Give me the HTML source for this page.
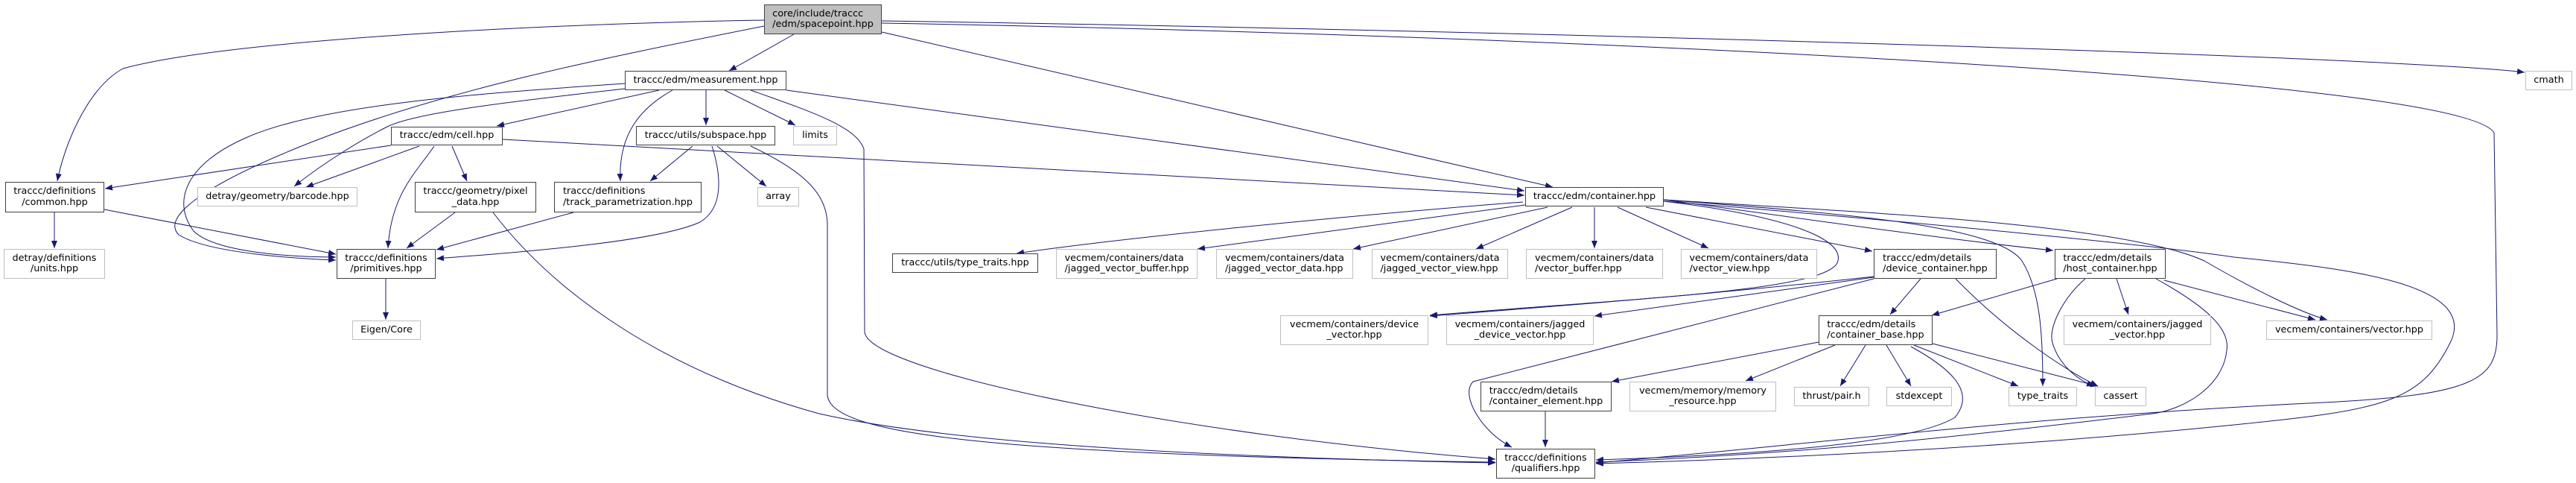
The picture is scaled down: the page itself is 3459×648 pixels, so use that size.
<!DOCTYPE html>
<html><head><meta charset="utf-8">
<style>
html,body{margin:0;padding:0;background:#fff;}
#wrap{position:relative;width:3459px;height:648px;overflow:hidden;background:#fff;}
svg{position:absolute;left:0;top:0;}
.n{position:absolute;box-sizing:border-box;border:1.3px solid #404040;background:#fff;display:flex;align-items:center;justify-content:center;font-family:"DejaVu Sans","Liberation Sans",sans-serif;font-size:12.8px;line-height:14.5px;color:#000;white-space:nowrap;}
.g{border-color:#bfbfbf;}
.r{background:#bfbfbf;}
.n span{display:inline-block;}
.c span{text-align:center;}
.l span{text-align:left;}
</style></head><body>
<div id="wrap">
<svg width="3459" height="648" viewBox="0 0 3459 648">
<defs><marker id="a" viewBox="0 0 10 8" refX="10" refY="4" markerWidth="10" markerHeight="8" markerUnits="userSpaceOnUse" orient="auto"><path d="M0,0 L10,4 L0,8 z" fill="#191970"/></marker></defs>
<g fill="none" stroke="#191970" stroke-width="1" marker-end="url(#a)">
<path d="M1026,27 C700,33 300,55 165,92 C115,120 85,200 77,243"/>
<path d="M1026,35 C800,80 600,120 420,190 C280,245 215,290 240,315 C280,340 400,347 451,349"/>
<path d="M1066,46 L979,95"/>
<path d="M1184,43 L2085,251"/>
<path d="M1184,28 C2000,40 3200,75 3390,97"/>
<path d="M1184,31 C2000,45 3300,100 3349,178 L3353,450 C3353,510 3320,530 3120,540 C2700,560 2400,600 2143,621"/>
<path d="M885,121 L667,169"/>
<path d="M948,121 L948,168"/>
<path d="M973,121 L1068,168"/>
<path d="M839,112 C650,125 430,140 330,185 C250,220 230,270 260,310 C290,340 400,345 451,345"/>
<path d="M839,119 C700,135 560,150 520,170 C470,195 420,230 395,250"/>
<path d="M903,121 C860,145 830,180 833,243"/>
<path d="M1056,121 L2047,256"/>
<path d="M1008,121 C1090,150 1150,170 1160,200 L1161,446 C1170,500 1600,585 2008,616"/>
<path d="M1008,196 C1080,230 1110,260 1111,300 L1111,530 C1115,580 1300,610 2008,620"/>
<path d="M675,187 L2047,262"/>
<path d="M525,195 L141,253"/>
<path d="M563,196 L411,251"/>
<path d="M583,196 C560,230 525,260 521,333"/>
<path d="M607,196 L627,243"/>
<path d="M930,196 L873,243"/>
<path d="M963,196 L1029,250"/>
<path d="M956,196 C970,240 970,280 940,298 C880,325 700,338 586,347"/>
<path d="M73,285 L73,333"/>
<path d="M140,281 L451,341"/>
<path d="M611,285 L546,333"/>
<path d="M662,285 C750,400 900,500 1100,555 C1300,600 1700,615 2008,621"/>
<path d="M770,285 L586,335"/>
<path d="M518,374 L518,429"/>
<path d="M2045,271 C1800,290 1500,320 1365,340"/>
<path d="M2048,275 L1608,334"/>
<path d="M2078,278 L1817,334"/>
<path d="M2111,278 L1982,334"/>
<path d="M2141,278 L2141,333"/>
<path d="M2172,278 L2294,333"/>
<path d="M2210,278 L2514,337"/>
<path d="M2234,268 C2400,290 2600,320 2757,336"/>
<path d="M2234,270 C2400,290 2475,320 2468,350 C2460,390 2200,400 1920,423"/>
<path d="M2234,268 C2450,285 2680,300 2715,350 C2740,390 2743,450 2743,518"/>
<path d="M2234,268 C2500,285 2850,300 2960,350 C3020,385 3090,420 3125,429"/>
<path d="M2234,270 C2600,300 2900,330 3000,345 C3150,360 3330,380 3290,460 C3250,540 3200,550 3000,570 C2700,600 2400,615 2143,622"/>
<path d="M2516,371 C2300,395 2100,410 1920,424"/>
<path d="M2516,372 L2141,424"/>
<path d="M2516,374 C2300,430 2100,480 1978,512 C1960,530 1990,580 2030,600"/>
<path d="M2579,374 L2538,422"/>
<path d="M2626,374 C2700,450 2780,500 2817,518"/>
<path d="M2762,374 L2594,423"/>
<path d="M2842,374 L2858,422"/>
<path d="M2906,376 L3109,429"/>
<path d="M2800,374 C2770,400 2750,440 2756,460 C2765,490 2790,510 2812,518"/>
<path d="M2895,374 C2960,410 2995,440 2990,470 C2985,520 2930,550 2890,555 C2600,590 2400,610 2143,620"/>
<path d="M2442,459 L2164,512"/>
<path d="M2464,463 L2344,511"/>
<path d="M2505,463 L2471,518"/>
<path d="M2533,463 L2566,518"/>
<path d="M2570,463 L2710,518"/>
<path d="M2595,461 L2817,518"/>
<path d="M2566,465 C2630,500 2650,530 2625,560 C2560,600 2300,612 2143,617"/>
<path d="M2075,552 L2075,600"/>
</g>
</svg>
<div class="n r l" style="left:1026px;top:6px;width:158px;height:40px"><span>core/include/traccc<br>/edm/spacepoint.hpp</span></div>
<div class="n c" style="left:839px;top:95px;width:217px;height:26px"><span>traccc/edm/measurement.hpp</span></div>
<div class="n c" style="left:525px;top:170px;width:150px;height:25px"><span>traccc/edm/cell.hpp</span></div>
<div class="n c" style="left:854px;top:169px;width:187px;height:26px"><span>traccc/utils/subspace.hpp</span></div>
<div class="n g c" style="left:1065px;top:169px;width:59px;height:26px"><span>limits</span></div>
<div class="n c" style="left:7px;top:244px;width:133px;height:41px"><span>traccc/definitions<br>/common.hpp</span></div>
<div class="n g c" style="left:265px;top:251px;width:215px;height:26px"><span>detray/geometry/barcode.hpp</span></div>
<div class="n c" style="left:557px;top:244px;width:163px;height:41px"><span>traccc/geometry/pixel<br>_data.hpp</span></div>
<div class="n l" style="left:744px;top:244px;width:198px;height:41px"><span>traccc/definitions<br>/track_parametrization.hpp</span></div>
<div class="n g c" style="left:1017px;top:251px;width:56px;height:26px"><span>array</span></div>
<div class="n g c" style="left:5px;top:334px;width:136px;height:40px"><span>detray/definitions<br>/units.hpp</span></div>
<div class="n c" style="left:452px;top:334px;width:133px;height:40px"><span>traccc/definitions<br>/primitives.hpp</span></div>
<div class="n g c" style="left:473px;top:430px;width:92px;height:26px"><span>Eigen/Core</span></div>
<div class="n c" style="left:2048px;top:251px;width:186px;height:26px"><span>traccc/edm/container.hpp</span></div>
<div class="n c" style="left:1198px;top:340px;width:196px;height:26px"><span>traccc/utils/type_traits.hpp</span></div>
<div class="n g l" style="left:1418px;top:334px;width:190px;height:40px"><span>vecmem/containers/data<br>/jagged_vector_buffer.hpp</span></div>
<div class="n g l" style="left:1633px;top:334px;width:184px;height:40px"><span>vecmem/containers/data<br>/jagged_vector_data.hpp</span></div>
<div class="n g l" style="left:1842px;top:334px;width:183px;height:40px"><span>vecmem/containers/data<br>/jagged_vector_view.hpp</span></div>
<div class="n g l" style="left:2049px;top:334px;width:184px;height:40px"><span>vecmem/containers/data<br>/vector_buffer.hpp</span></div>
<div class="n g l" style="left:2257px;top:334px;width:183px;height:40px"><span>vecmem/containers/data<br>/vector_view.hpp</span></div>
<div class="n l" style="left:2516px;top:334px;width:165px;height:40px"><span>traccc/edm/details<br>/device_container.hpp</span></div>
<div class="n l" style="left:2759px;top:334px;width:149px;height:40px"><span>traccc/edm/details<br>/host_container.hpp</span></div>
<div class="n g c" style="left:1719px;top:423px;width:199px;height:40px"><span>vecmem/containers/device<br>_vector.hpp</span></div>
<div class="n g c" style="left:1942px;top:423px;width:198px;height:40px"><span>vecmem/containers/jagged<br>_device_vector.hpp</span></div>
<div class="n l" style="left:2442px;top:423px;width:153px;height:40px"><span>traccc/edm/details<br>/container_base.hpp</span></div>
<div class="n g c" style="left:2771px;top:423px;width:198px;height:40px"><span>vecmem/containers/jagged<br>_vector.hpp</span></div>
<div class="n g c" style="left:3043px;top:430px;width:223px;height:26px"><span>vecmem/containers/vector.hpp</span></div>
<div class="n g c" style="left:3391px;top:95px;width:63px;height:26px"><span>cmath</span></div>
<div class="n l" style="left:1988px;top:512px;width:176px;height:40px"><span>traccc/edm/details<br>/container_element.hpp</span></div>
<div class="n g c" style="left:2188px;top:512px;width:197px;height:40px"><span>vecmem/memory/memory<br>_resource.hpp</span></div>
<div class="n g c" style="left:2409px;top:519px;width:101px;height:26px"><span>thrust/pair.h</span></div>
<div class="n g c" style="left:2533px;top:519px;width:88px;height:26px"><span>stdexcept</span></div>
<div class="n g c" style="left:2697px;top:519px;width:92px;height:26px"><span>type_traits</span></div>
<div class="n g c" style="left:2813px;top:519px;width:69px;height:26px"><span>cassert</span></div>
<div class="n c" style="left:2009px;top:602px;width:133px;height:40px"><span>traccc/definitions<br>/qualifiers.hpp</span></div>
</div>
</body></html>
